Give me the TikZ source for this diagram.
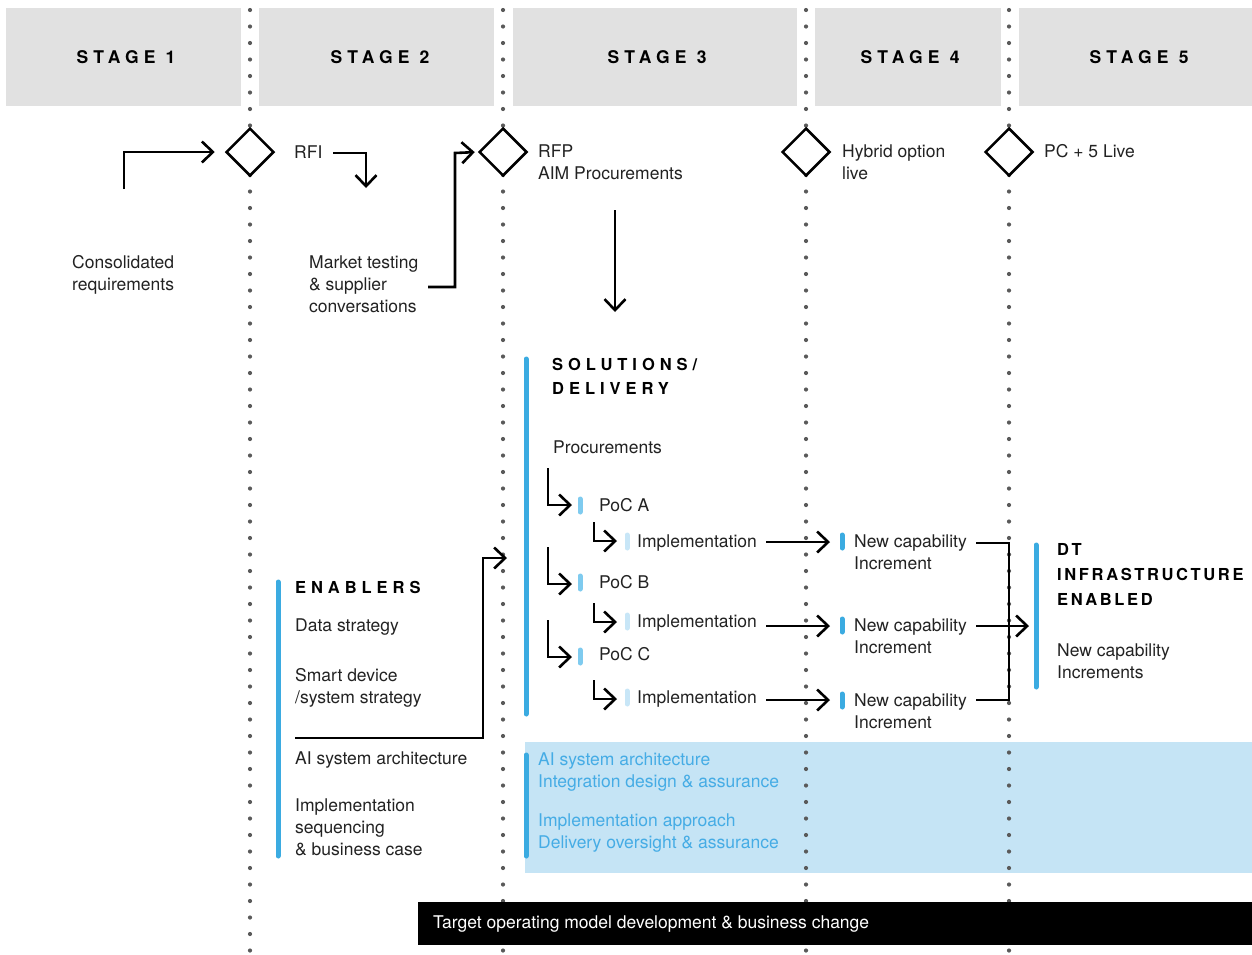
\documentclass[tikz,border=0pt]{standalone}
\usepackage{fontspec}
\setmainfont{TeX Gyre Heros}
\newfontfamily\hdfont[LetterSpace=30]{TeX Gyre Heros}
\newfontfamily\dtfont[LetterSpace=16]{TeX Gyre Heros}
\usetikzlibrary{shapes.geometric,arrows.meta}
\definecolor{hdrgray}{HTML}{E1E1E1}
\definecolor{dotgray}{HTML}{5A5A5A}
\definecolor{ink}{HTML}{222222}
\definecolor{barblue}{HTML}{3BABE1}
\definecolor{midblue}{HTML}{7FCBEF}
\definecolor{paleblue}{HTML}{C8E6F7}
\definecolor{boxfill}{HTML}{C5E4F5}
\definecolor{boxtext}{HTML}{45ACE5}
\newcommand\ml[1]{\vtop{\halign{##\hfil\cr#1\crcr}}}
\begin{document}
\begin{tikzpicture}[x=1pt,y=-1pt,
  txt/.style={inner sep=0pt, anchor=base west, text=ink, font=\fontsize{17.5}{22}\selectfont},
  hd/.style={inner sep=0pt, anchor=base west, text=black, font=\hdfont\bfseries\fontsize{16.5}{24.5}\selectfont},
  stagehd/.style={inner sep=0pt, anchor=base, text=black, font=\hdfont\bfseries\fontsize{17.5}{24}\selectfont},
  dthd/.style={inner sep=0pt, anchor=base west, text=black, font=\dtfont\bfseries\fontsize{16.5}{25}\selectfont},
  arr/.style={line width=2.6pt, -{Straight Barb[length=11pt,width=21pt]}},
  ln/.style={line width=2.6pt},
  vbar/.style={line width=5pt, line cap=round, draw=barblue},
  sbar/.style={line width=5pt, line cap=round},
  dia/.style={diamond, draw, line width=2.5pt, fill=white, minimum width=48pt, minimum height=48pt, inner sep=0pt, aspect=1}
]
\useasboundingbox (0,0) rectangle (1252,954);
% header boxes
\fill[hdrgray] (6,8) rectangle (241,106);
\fill[hdrgray] (259,8) rectangle (494,106);
\fill[hdrgray] (513,8) rectangle (797,106);
\fill[hdrgray] (815,8) rectangle (1001,106);
\fill[hdrgray] (1019,8) rectangle (1252,106);
\node[stagehd] (s1) at (126,63) {STAGE 1};
\node[stagehd] (s2) at (380,63) {STAGE 2};
\node[stagehd] (s3) at (657,63) {STAGE 3};
\node[stagehd] (s4) at (910,63) {STAGE 4};
\node[stagehd] (s5) at (1139,63) {STAGE 5};
% light blue box
\fill[boxfill] (525,742) rectangle (1252,873);
% dotted lines
\foreach \x in {250,503,806,1009}
  \foreach \i in {0,...,57}
    \fill[dotgray] (\x,{10+16.5*\i}) circle (2.1pt);
% black bar
\fill[black] (418,902) rectangle (1252,945);
\node[txt, text=white] (tom) at (433,928) {Target operating model development \& business change};
% diamonds
\node[dia] (d1) at (250,152) {};
\node[dia] (d2) at (503,152) {};
\node[dia] (d3) at (806,152) {};
\node[dia] (d4) at (1009,152) {};
% texts
\node[txt] (cons) at (72,268) {\ml{Consolidated\cr requirements}};
\node[txt] (rfi) at (294,158) {RFI};
\node[txt] (mkt) at (309,268) {\ml{Market testing\cr \& supplier\cr conversations}};
\node[txt] (rfp) at (538,157) {\ml{RFP\cr AIM Procurements}};
\node[txt] (hyb) at (842,157) {\ml{Hybrid option\cr live}};
\node[txt] (pc5) at (1044,157) {PC + 5 Live};
\node[hd] (sol) at (552,370) {\ml{SOLUTIONS/\cr DELIVERY}};
\node[txt] (proc) at (553,453) {Procurements};
\node[txt] (pa) at (599,511) {PoC A};
\node[txt] (ia) at (637,547) {Implementation};
\node[txt] (pb) at (599,588) {PoC B};
\node[txt] (ib) at (637,627) {Implementation};
\node[txt] (pcc) at (599,660) {PoC C};
\node[txt] (ic) at (637,703) {Implementation};
\node[txt] (na) at (854,547) {\ml{New capability\cr Increment}};
\node[txt] (nb) at (854,631) {\ml{New capability\cr Increment}};
\node[txt] (nc) at (854,706) {\ml{New capability\cr Increment}};
\node[dthd] (dt) at (1057,555) {\ml{DT\cr INFRASTRUCTURE\cr ENABLED}};
\node[txt] (ninc) at (1057,656) {\ml{New capability\cr Increments}};
\node[hd] (en) at (295,593) {ENABLERS};
\node[txt] (ds) at (295,631) {Data strategy};
\node[txt] (sd) at (295,681) {\ml{Smart device\cr /system strategy}};
\node[txt] (ai) at (295,764) {AI system architecture};
\node[txt] (impl) at (295,811) {\ml{Implementation\cr sequencing\cr \& business case}};
\node[txt, text=boxtext] (b1) at (538,765) {\ml{AI system architecture\cr Integration design \& assurance}};
\node[txt, text=boxtext] (b2) at (538,826) {\ml{Implementation approach\cr Delivery oversight \& assurance}};
% blue bars
\draw[vbar] (526,359) -- (526,714);
\draw[vbar] (278,582) -- (278,856);
\draw[vbar] (1036,545) -- (1036,687);
\draw[vbar] (526,755) -- (526,856);
\draw[sbar, draw=midblue] (580,499) -- (580,512);
\draw[sbar, draw=midblue] (580,576) -- (580,589);
\draw[sbar, draw=midblue] (580,650) -- (580,663);
\draw[sbar, draw=paleblue] (627,535) -- (627,548);
\draw[sbar, draw=paleblue] (627,615) -- (627,628);
\draw[sbar, draw=paleblue] (627,691) -- (627,704);
\draw[sbar, draw=barblue] (842,535) -- (842,548);
\draw[sbar, draw=barblue] (842,619) -- (842,632);
\draw[sbar, draw=barblue] (842,694) -- (842,707);
% connectors
\coordinate (c1) at (124,189);
\draw[arr, shorten >=10pt] (c1) |- (d1.west);
\coordinate (c2) at (333,153);
\coordinate (c3) at (366,188);
\draw[arr] (c2) -| (c3);
\coordinate (c4) at (428,287);
\coordinate (c5) at (455,153);
\draw[arr, shorten >=3pt] (c4) -| (c5) -- (d2.west);
\coordinate (c6) at (615,210);
\coordinate (c7) at (615,312);
\draw[arr] (c6) -- (c7);
\coordinate (c8) at (295,738);
\coordinate (c9) at (483,558);
\coordinate (c10) at (507,558);
\draw[arr] (c8) -| (c9) -- (c10);
% PoC arrows
\draw[arr] (548,468) |- (572,505);
\draw[arr] (548,547) |- (572,584);
\draw[arr] (548,620) |- (572,657);
\draw[arr] (594,522) |- (617,541);
\draw[arr] (594,603) |- (617,622);
\draw[arr] (594,680) |- (617,699);
% implementation -> new capability
\draw[arr] (766,542) -- (830,542);
\draw[arr] (766,626) -- (830,626);
\draw[arr] (766,700) -- (830,700);
\draw[ln] (976,543) -| (1009,700) -- (976,700);
\draw[arr] (976,626) -- (1029,626);
\end{tikzpicture}
\end{document}
